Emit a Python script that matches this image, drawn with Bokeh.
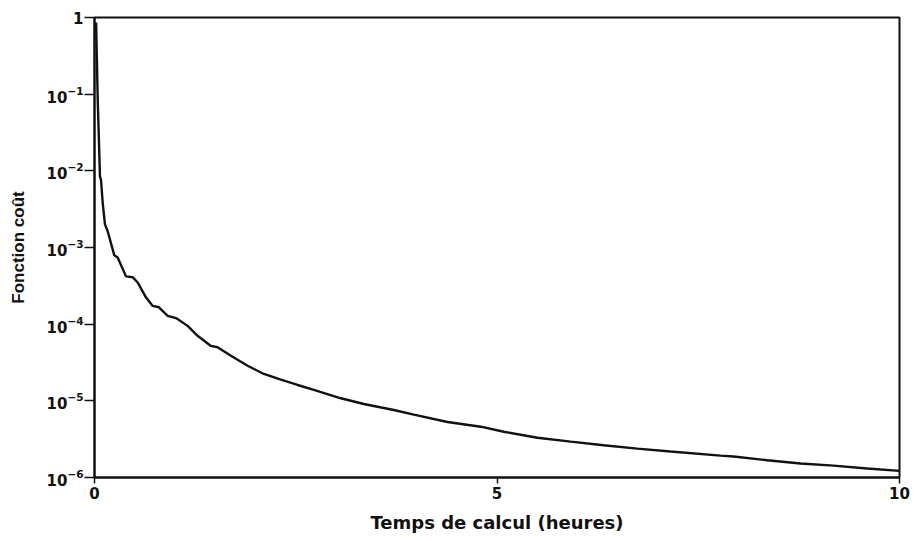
from bokeh.plotting import figure
from bokeh.models import FixedTicker, LogTickFormatter, Range1d
from bokeh.embed import file_html
from bokeh.resources import INLINE

# Temps de calcul (heures)
t_hours = [0.02, 0.04, 0.068, 0.081, 0.102, 0.130, 0.164, 0.246, 0.288, 0.391,
           0.474, 0.536, 0.639, 0.723, 0.801, 0.909, 1.012, 1.157, 1.281, 1.446,
           1.529, 1.695, 1.902, 2.104, 2.315, 2.523, 2.725, 3.06, 3.346, 3.718,
           3.967, 4.385, 4.798, 5.084, 5.502, 5.916, 6.325, 6.744, 7.156, 7.777,
           7.939, 8.357, 8.77, 9.18, 9.599, 10.0]
# Fonction coût
cost = [0.86, 0.084, 0.0084, 7.6e-3, 3.8e-3, 2.0e-3, 1.63e-3, 7.9e-4, 7.4e-4, 4.2e-4,
        4.1e-4, 3.5e-4, 2.24e-4, 1.73e-4, 1.66e-4, 1.28e-4, 1.20e-4, 9.5e-5, 7.05e-5, 5.2e-5,
        5.0e-5, 3.87e-5, 2.87e-5, 2.24e-5, 1.89e-5, 1.61e-5, 1.39e-5, 1.08e-5, 9.1e-6, 7.6e-6,
        6.6e-6, 5.3e-6, 4.6e-6, 3.95e-6, 3.3e-6, 2.94e-6, 2.63e-6, 2.38e-6, 2.18e-6, 1.93e-6,
        1.88e-6, 1.68e-6, 1.52e-6, 1.43e-6, 1.31e-6, 1.22e-6]

x_ticks = [0, 5, 10]
y_ticks = [1e-6, 1e-5, 1e-4, 1e-3, 1e-2, 1e-1, 1]

WIDE = "DejaVu Sans"
NARROW = "Liberation Sans"

p = figure(width=910, height=535, output_backend="svg", toolbar_location=None,
           y_axis_type="log",
           x_range=Range1d(0, 10), y_range=Range1d(1e-6, 1),
           min_border_left=94, min_border_right=11, min_border_top=17, min_border_bottom=56)

p.line(t_hours, cost, line_color="#111111", line_width=2.4)

p.grid.visible = False
p.background_fill_color = "white"
p.border_fill_color = "white"
p.outline_line_color = "#111111"
p.outline_line_width = 2

p.xaxis.ticker = FixedTicker(ticks=x_ticks)
p.yaxis.ticker = FixedTicker(ticks=y_ticks)
p.yaxis.formatter = LogTickFormatter()
p.yaxis.major_label_overrides = {1: "1"}

for ax in (p.xaxis[0], p.yaxis[0]):
    ax.axis_line_color = "#111111"
    ax.axis_line_width = 2
    ax.major_tick_line_color = "#111111"
    ax.major_tick_line_width = 1.5
    ax.major_tick_in = 0
    ax.minor_tick_line_color = None
    ax.major_label_text_font = WIDE
    ax.major_label_text_font_style = "bold"
    ax.major_label_text_font_size = "15px"
    ax.major_label_text_color = "#111111"
    ax.axis_label_text_color = "#111111"
    ax.axis_label_text_font_style = "bold"

p.xaxis.major_tick_out = 6
p.xaxis.major_label_standoff = 3
p.xaxis.axis_label = "Temps de calcul (heures)"
p.xaxis.axis_label_text_font = WIDE
p.xaxis.axis_label_text_font_size = "18px"
p.xaxis.axis_label_standoff = 10

p.yaxis.major_tick_out = 10
p.yaxis.major_label_standoff = 1
p.yaxis.axis_label = "Fonction coût"
p.yaxis.axis_label_text_font = NARROW
p.yaxis.axis_label_text_font_size = "17px"
p.yaxis.axis_label_standoff = 16

open("out.html", "w").write(file_html(p, INLINE))
